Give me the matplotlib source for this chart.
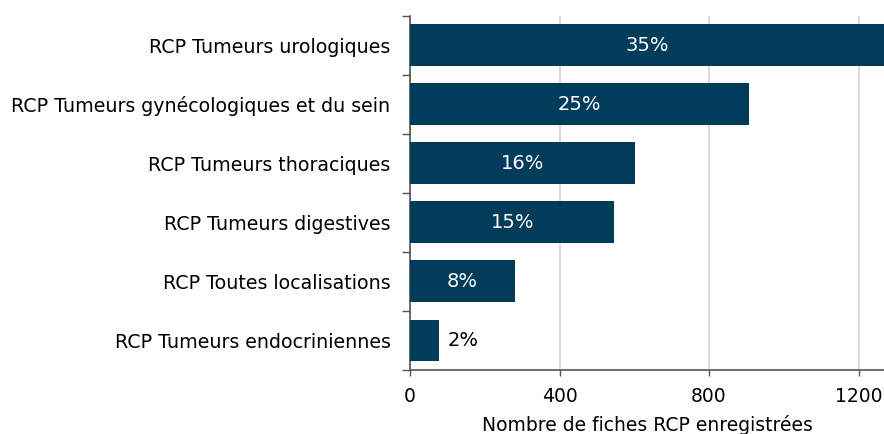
import numpy as np
import matplotlib.pyplot as plt
from matplotlib.ticker import FixedLocator

# values (top bar runs past the axis edge)
categories = ["RCP Tumeurs urologiques",
              "RCP Tumeurs gynécologiques et du sein",
              "RCP Tumeurs thoraciques",
              "RCP Tumeurs digestives",
              "RCP Toutes localisations",
              "RCP Tumeurs endocriniennes"]
counts = [1300, 906, 602, 547, 281, 78]
pct_labels = ["35%", "25%", "16%", "15%", "8%", "2%"]
xticks = [0, 400, 800, 1200]

bar_color = "#023c5b"
axis_color = "#555555"

plt.rcParams['font.family'] = ['DejaVu Sans']

fig = plt.figure(figsize=(8.84, 4.34), dpi=100)
ax = fig.add_axes([0.4638, 0.1475, 0.5362, 0.8163])

y = np.arange(len(categories))[::-1]
ax.barh(y, counts, height=0.71, color=bar_color, zorder=3)

xmax = 1268
ax.set_xlim(0, xmax)
ax.set_ylim(-0.5, len(categories) - 0.5)

for yi, c, lab in zip(y, counts, pct_labels):
    if c > 150:
        ax.text(min(c, xmax) / 2, yi, lab, ha="center", va="center",
                color="white", fontsize=14, zorder=4)
    else:
        ax.text(c + 22, yi, lab, ha="left", va="center",
                color="black", fontsize=14, zorder=4)

ax.set_yticks(y)
ax.set_yticklabels(categories, fontsize=13.7)
ax.tick_params(axis="y", which="major", length=0, pad=14)
ax.yaxis.set_minor_locator(FixedLocator(np.arange(-0.5, len(categories), 1.0)))
ax.tick_params(axis="y", which="minor", length=6, width=1, color=axis_color)

ax.set_xticks(xticks)
ax.tick_params(axis="x", labelsize=13.5, length=4, width=1, color=axis_color, pad=8)
ax.grid(axis="x", color="#d9d9d9", linewidth=1.5, zorder=0)

for side in ["top", "right"]:
    ax.spines[side].set_visible(False)
for side in ["left", "bottom"]:
    ax.spines[side].set_color(axis_color)
    ax.spines[side].set_linewidth(1.2)

ax.set_xlabel("Nombre de fiches RCP enregistrées", fontsize=13.5, labelpad=7)

fig.savefig("out.png", dpi=100)
